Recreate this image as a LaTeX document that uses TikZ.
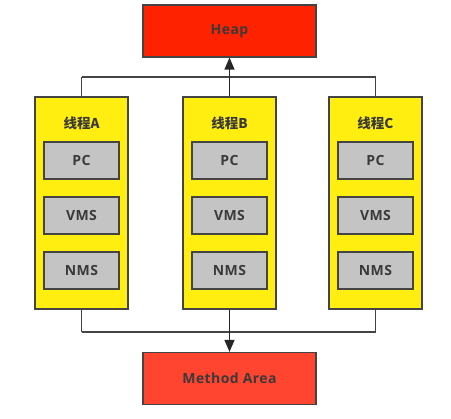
\documentclass[tikz,border=0pt]{standalone}
\usepackage{fontspec}
\setmainfont{Open Sans}[LetterSpace=3]
\newfontfamily\cjk{Noto Sans CJK SC}
\usetikzlibrary{arrows.meta}
\definecolor{heapred}{HTML}{FF2200}
\definecolor{methred}{HTML}{FF4430}
\definecolor{thyellow}{HTML}{FFEE10}
\definecolor{regray}{HTML}{C4C4C4}
\definecolor{edge}{HTML}{444444}
\definecolor{txt}{HTML}{3A3A3A}
\tikzset{
  big/.style={draw=edge, line width=1.2pt, fill=#1, minimum width=173pt, minimum height=52pt, inner sep=0pt, font=\fontsize{14}{16}\selectfont\bfseries, text=txt},
  thread/.style={draw=edge, line width=1.2pt, fill=thyellow, minimum width=93pt, minimum height=212pt, inner sep=0pt},
  reg/.style={draw=edge, line width=1.2pt, fill=regray, minimum width=75pt, minimum height=37pt, inner sep=0pt, font=\fontsize{14}{16}\selectfont\bfseries, text=txt},
  ttl/.style={font=\fontsize{13.5}{15}\selectfont\bfseries\cjk, text=txt, inner sep=0pt},
  conn/.style={draw=edge, line width=1.1pt},
  arr/.style={draw=black!85, line width=1.4pt, -{Triangle[length=12pt,width=10pt]}}
}
\begin{document}
\begin{tikzpicture}[x=1pt,y=-1pt]
\useasboundingbox (0,0) rectangle (451,419);
\node[big=heapred] (heap) at (229.5,31) {Heap};
\node[big=methred] (meth) at (229.5,378.5) {Method Area};
\foreach \n/\x/\l in {a/81.5/A, b/229.5/B, c/375.5/C}{
  \node[thread] (t\n) at (\x,203) {};
  \node[ttl] (n\n) at (\x,123) {线程\l};
  \node[reg] (pc\n) at (\x,160.5) {PC};
  \node[reg] (vms\n) at (\x,215.5) {VMS};
  \node[reg] (nms\n) at (\x,270.5) {NMS};
}
\coordinate (jta) at (81.5,77);
\coordinate (jtc) at (375.5,77);
\coordinate (jba) at (81.5,332);
\coordinate (jbc) at (375.5,332);
\draw[conn] (jta) -- (jtc);
\draw[conn] (jba) -- (jbc);
\draw[conn] (jta) -- (ta.north);
\draw[conn] (jtc) -- (tc.north);
\draw[conn] (jba) -- (ta.south);
\draw[conn] (jbc) -- (tc.south);
\draw[arr] (tb.north) -- (heap.south);
\draw[arr] (tb.south) -- (meth.north);
\end{tikzpicture}
\end{document}
